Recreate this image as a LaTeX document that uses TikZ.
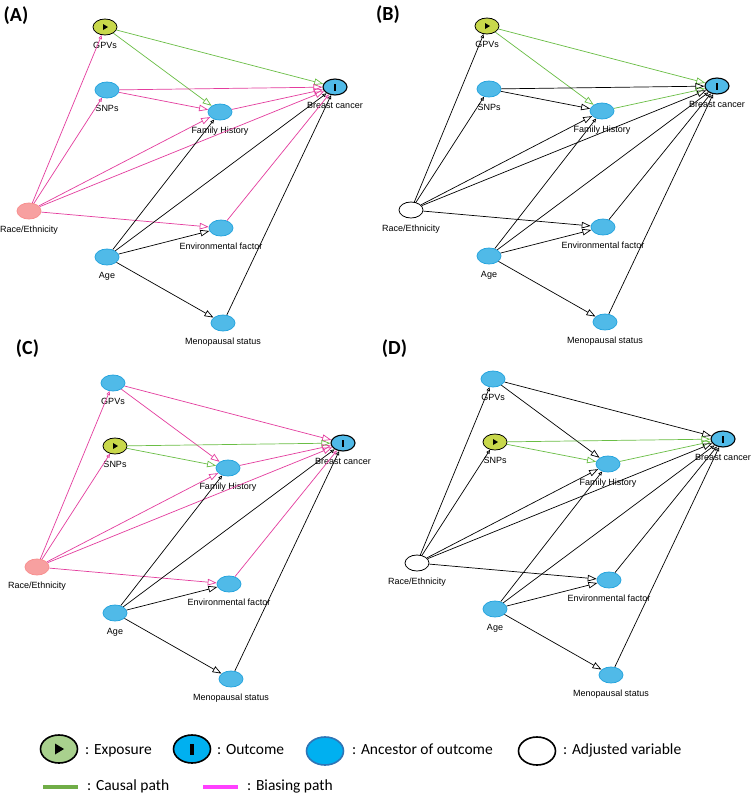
\documentclass[tikz,border=0pt]{standalone}
\usepackage{fontspec}
\setmainfont{Liberation Sans}
\newfontfamily\legendfont{Carlito}
\usetikzlibrary{arrows.meta,shapes.geometric}

\definecolor{causalgreen}{RGB}{106,190,69}
\definecolor{biaspink}{RGB}{228,60,158}
\definecolor{ancblue}{RGB}{80,186,232}
\definecolor{ancborder}{RGB}{40,165,222}
\definecolor{expogreen}{RGB}{200,216,75}
\definecolor{racepink}{RGB}{247,160,160}
\definecolor{legendgreen}{RGB}{169,209,142}
\definecolor{legendblue}{RGB}{0,176,240}
\definecolor{legendedge}{RGB}{46,117,182}
\definecolor{legendcausal}{RGB}{112,173,71}
\definecolor{legendbias}{RGB}{255,64,255}

\tikzset{
    var/.style={ellipse, minimum width=24pt, minimum height=16pt, inner sep=0pt, line width=0.8pt},
    lbl/.style={font=\fontsize{9}{9}\selectfont, inner sep=0pt, text height=7pt, text depth=2pt, yshift=-6pt},
    anc/.style={var, fill=ancblue, draw=ancborder},
    expo/.style={var, fill=expogreen, draw=black,
        path picture={\fill[black] ([shift={(-2pt,-3pt)}]path picture bounding box.center) -- ++(5pt,3pt) -- ++(-5pt,3pt) -- cycle;}},
    outcome/.style={var, fill=ancblue, draw=black, line width=1.1pt,
        path picture={\fill[black] ([shift={(-1pt,-3.5pt)}]path picture bounding box.center) rectangle ++(2pt,7pt);}},
    racenode/.style={var, fill=racepink, draw=racepink!90!red},
    adjnode/.style={var, fill=white, draw=black},
    bigarr/.style={line width=0.7pt, -{Triangle[open,length=9pt,width=6.5pt]}},
    smallarr/.style={line width=0.7pt, -{Triangle[open,length=4pt,width=3.5pt]}},
    causaledge/.style={draw=causalgreen},
    biasedge/.style={draw=biaspink},
    plainedge/.style={draw=black},
    panel/.style={font=\legendfont\bfseries\fontsize{20}{20}\selectfont, anchor=base, inner sep=0pt},
    legnode/.style={ellipse, minimum width=37pt, minimum height=28pt, inner sep=0pt, line width=1.6pt},
    legtxt/.style={font=\legendfont\fontsize{15.5}{15.5}\selectfont, anchor=base west, inner sep=0pt}
}

\begin{document}
\begin{tikzpicture}[x=1pt,y=-1pt]
    \useasboundingbox (0,0) rectangle (753,793);
    \fill[white] (0,0) rectangle (753,793);

    \foreach \pnl/\dx/\dy/\gv/\sn/\rn/\ge/\se/\fe/\re in {A/0/0/expo/anc/racenode/causaledge/biasedge/biasedge/biasedge,
            B/382/-1/expo/anc/adjnode/causaledge/plainedge/causaledge/plainedge,
            C/8/356/anc/expo/racenode/biasedge/causaledge/biasedge/biasedge,
            D/388/352/anc/expo/adjnode/plainedge/causaledge/causaledge/plainedge}{
        \begin{scope}[shift={(\dx,\dy)}, name prefix=\pnl-]
            \node[\gv, label={[lbl]below:GPVs}] (gpvs) at (105,27){};
            \node[\sn, label={[lbl]below:SNPs}] (snps) at (107,90){};
            \node[outcome, label={[lbl]below:Breast cancer}] (bc) at (335,87){};
            \node[anc, label={[lbl]below:Family History}] (fh) at (220,112){};
            \node[\rn, label={[lbl]below:Race/Ethnicity}] (race) at (29,211){};
            \node[anc, label={[lbl]below:Environmental factor}] (env) at (221,228){};
            \node[anc, label={[lbl]below:Age}] (age) at (107,257){};
            \node[anc, label={[lbl]below:Menopausal status}] (meno) at (223,323){};

            \draw[bigarr,\ge] (gpvs) -- (bc);
            \draw[bigarr,\ge] (gpvs) -- (fh);
            \draw[bigarr,\se] (snps) -- (bc);
            \draw[bigarr,\se] (snps) -- (fh);
            \draw[bigarr,\fe] (fh) -- (bc);
            \draw[smallarr,\re] (race) -- (gpvs);
            \draw[smallarr,\re] (race) -- (snps);
            \draw[bigarr,\re] (race) -- (fh);
            \draw[bigarr,\re] (race) -- (bc);
            \draw[bigarr,\re] (race) -- (env);
            \draw[smallarr,\re] (env) -- (bc);
            \draw[smallarr] (age) -- (fh);
            \draw[smallarr] (age) -- (bc);
            \draw[bigarr] (age) -- (env);
            \draw[bigarr] (age) -- (meno);
            \draw[smallarr] (meno) -- (bc);
        \end{scope}
    }

    \node[panel] (pa) at (16,21){(A)};
    \node[panel] (pb) at (388,20){(B)};
    \node[panel] (pc) at (27.5,354){(C)};
    \node[panel] (pd) at (394.5,354){(D)};

    \node[legnode, draw=black, fill=legendgreen,
        path picture={\fill[black] ([shift={(-4pt,-5.5pt)}]path picture bounding box.center) -- ++(9pt,5.5pt) -- ++(-9pt,5.5pt) -- cycle;}] (lexpo) at (59,749){};
    \node[legnode, draw=black, fill=legendblue,
        path picture={\fill[black] ([shift={(-1.7pt,-5.5pt)}]path picture bounding box.center) rectangle ++(3.4pt,11pt);}] (lout) at (192,749){};
    \node[legnode, draw=legendedge, fill=legendblue] (lanc) at (325,751){};
    \node[legnode, draw=black, fill=white] (ladj) at (537,751){};
    \node[legtxt] (texpo) at (85,754){: Exposure};
    \node[legtxt] (tout) at (217,754){: Outcome};
    \node[legtxt] (tanc) at (352,754){: Ancestor of outcome};
    \node[legtxt] (tadj) at (563,754){: Adjusted variable};

    \draw[legendcausal, line width=4pt] (43,787) -- (78,787);
    \draw[legendbias, line width=4pt] (203,787) -- (238,787);
    \node[legtxt] (tcausal) at (87,790){: Causal path};
    \node[legtxt] (tbias) at (247,790){: Biasing path};
\end{tikzpicture}
\end{document}
